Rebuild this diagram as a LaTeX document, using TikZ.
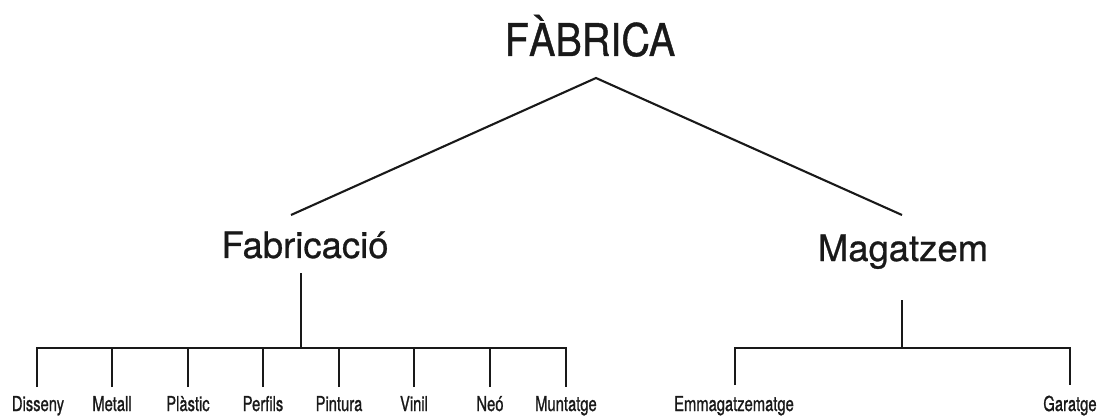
\documentclass[tikz,border=0pt]{standalone}
\usepackage{fontspec}
\setmainfont{TeX Gyre Heros}[FakeBold=0.7]
\newfontfamily\titlefont{TeX Gyre Heros}[FakeStretch=0.88,FakeBold=0.9]
\newfontfamily\leaffont{TeX Gyre Heros}[FakeStretch=0.72,FakeBold=0.9]
\begin{document}
\begin{tikzpicture}[x=1pt,y=-1pt,
  line/.style={line width=2.1pt, black!90},
  titletxt/.style={anchor=base, inner sep=0pt, font=\titlefont\fontsize{45}{50}\selectfont, text=black!90},
  midtxt/.style={anchor=base, inner sep=0pt, font=\fontsize{36.5}{40}\selectfont, text=black!90},
  leaftxt/.style={anchor=base, inner sep=0pt, font=\leaffont\fontsize{20.5}{22}\selectfont, text=black!90}]
\useasboundingbox (0,0) rectangle (1104,417);
% texts
\node[titletxt] (fab) at (590,56) {FÀBRICA};
\node[midtxt] (fabr) at (305,258) {Fabricació};
\node[midtxt] (mag) at (903,261) {Magatzem};
% leaves
\foreach \n/\x/\t in {l1/38/Disseny, l2/112/Metall, l3/188/Plàstic, l4/263/Perfils, l5/339/Pintura, l6/414/Vinil, l7/490/Neó, l8/566/Muntatge, m1/734/Emmagatzematge, m2/1070/Garatge}{
  \node[leaftxt] (\n) at (\x,411) {\t};
}
% connector points
\coordinate (apex) at (596,78);
\coordinate (fabend) at (291,215);
\coordinate (magend) at (902,215);
\coordinate (fabtop) at (301,273);
\coordinate (fabbar) at (301,348);
\coordinate (magtop) at (902,300);
\coordinate (magbar) at (902,348);
\draw[line, line join=miter] (fabend) -- (apex) -- (magend);
\draw[line] (fabtop) -- (fabbar);
\draw[line] (magtop) -- (magbar);
\foreach \n/\x in {l1/37, l2/112, l3/188, l4/263, l5/339, l6/414, l7/490, l8/566}{
  \coordinate (\n t) at (\x,387);
}
\draw[line] (l1t) |- (fabbar) -| (l8t);
\foreach \n in {l2,l3,l4,l5,l6,l7}{
  \draw[line] (\n t) -- (\n t |- fabbar);
}
\coordinate (m1t) at (735,385);
\coordinate (m2t) at (1070,385);
\draw[line] (m1t) |- (magbar) -| (m2t);
\end{tikzpicture}
\end{document}
